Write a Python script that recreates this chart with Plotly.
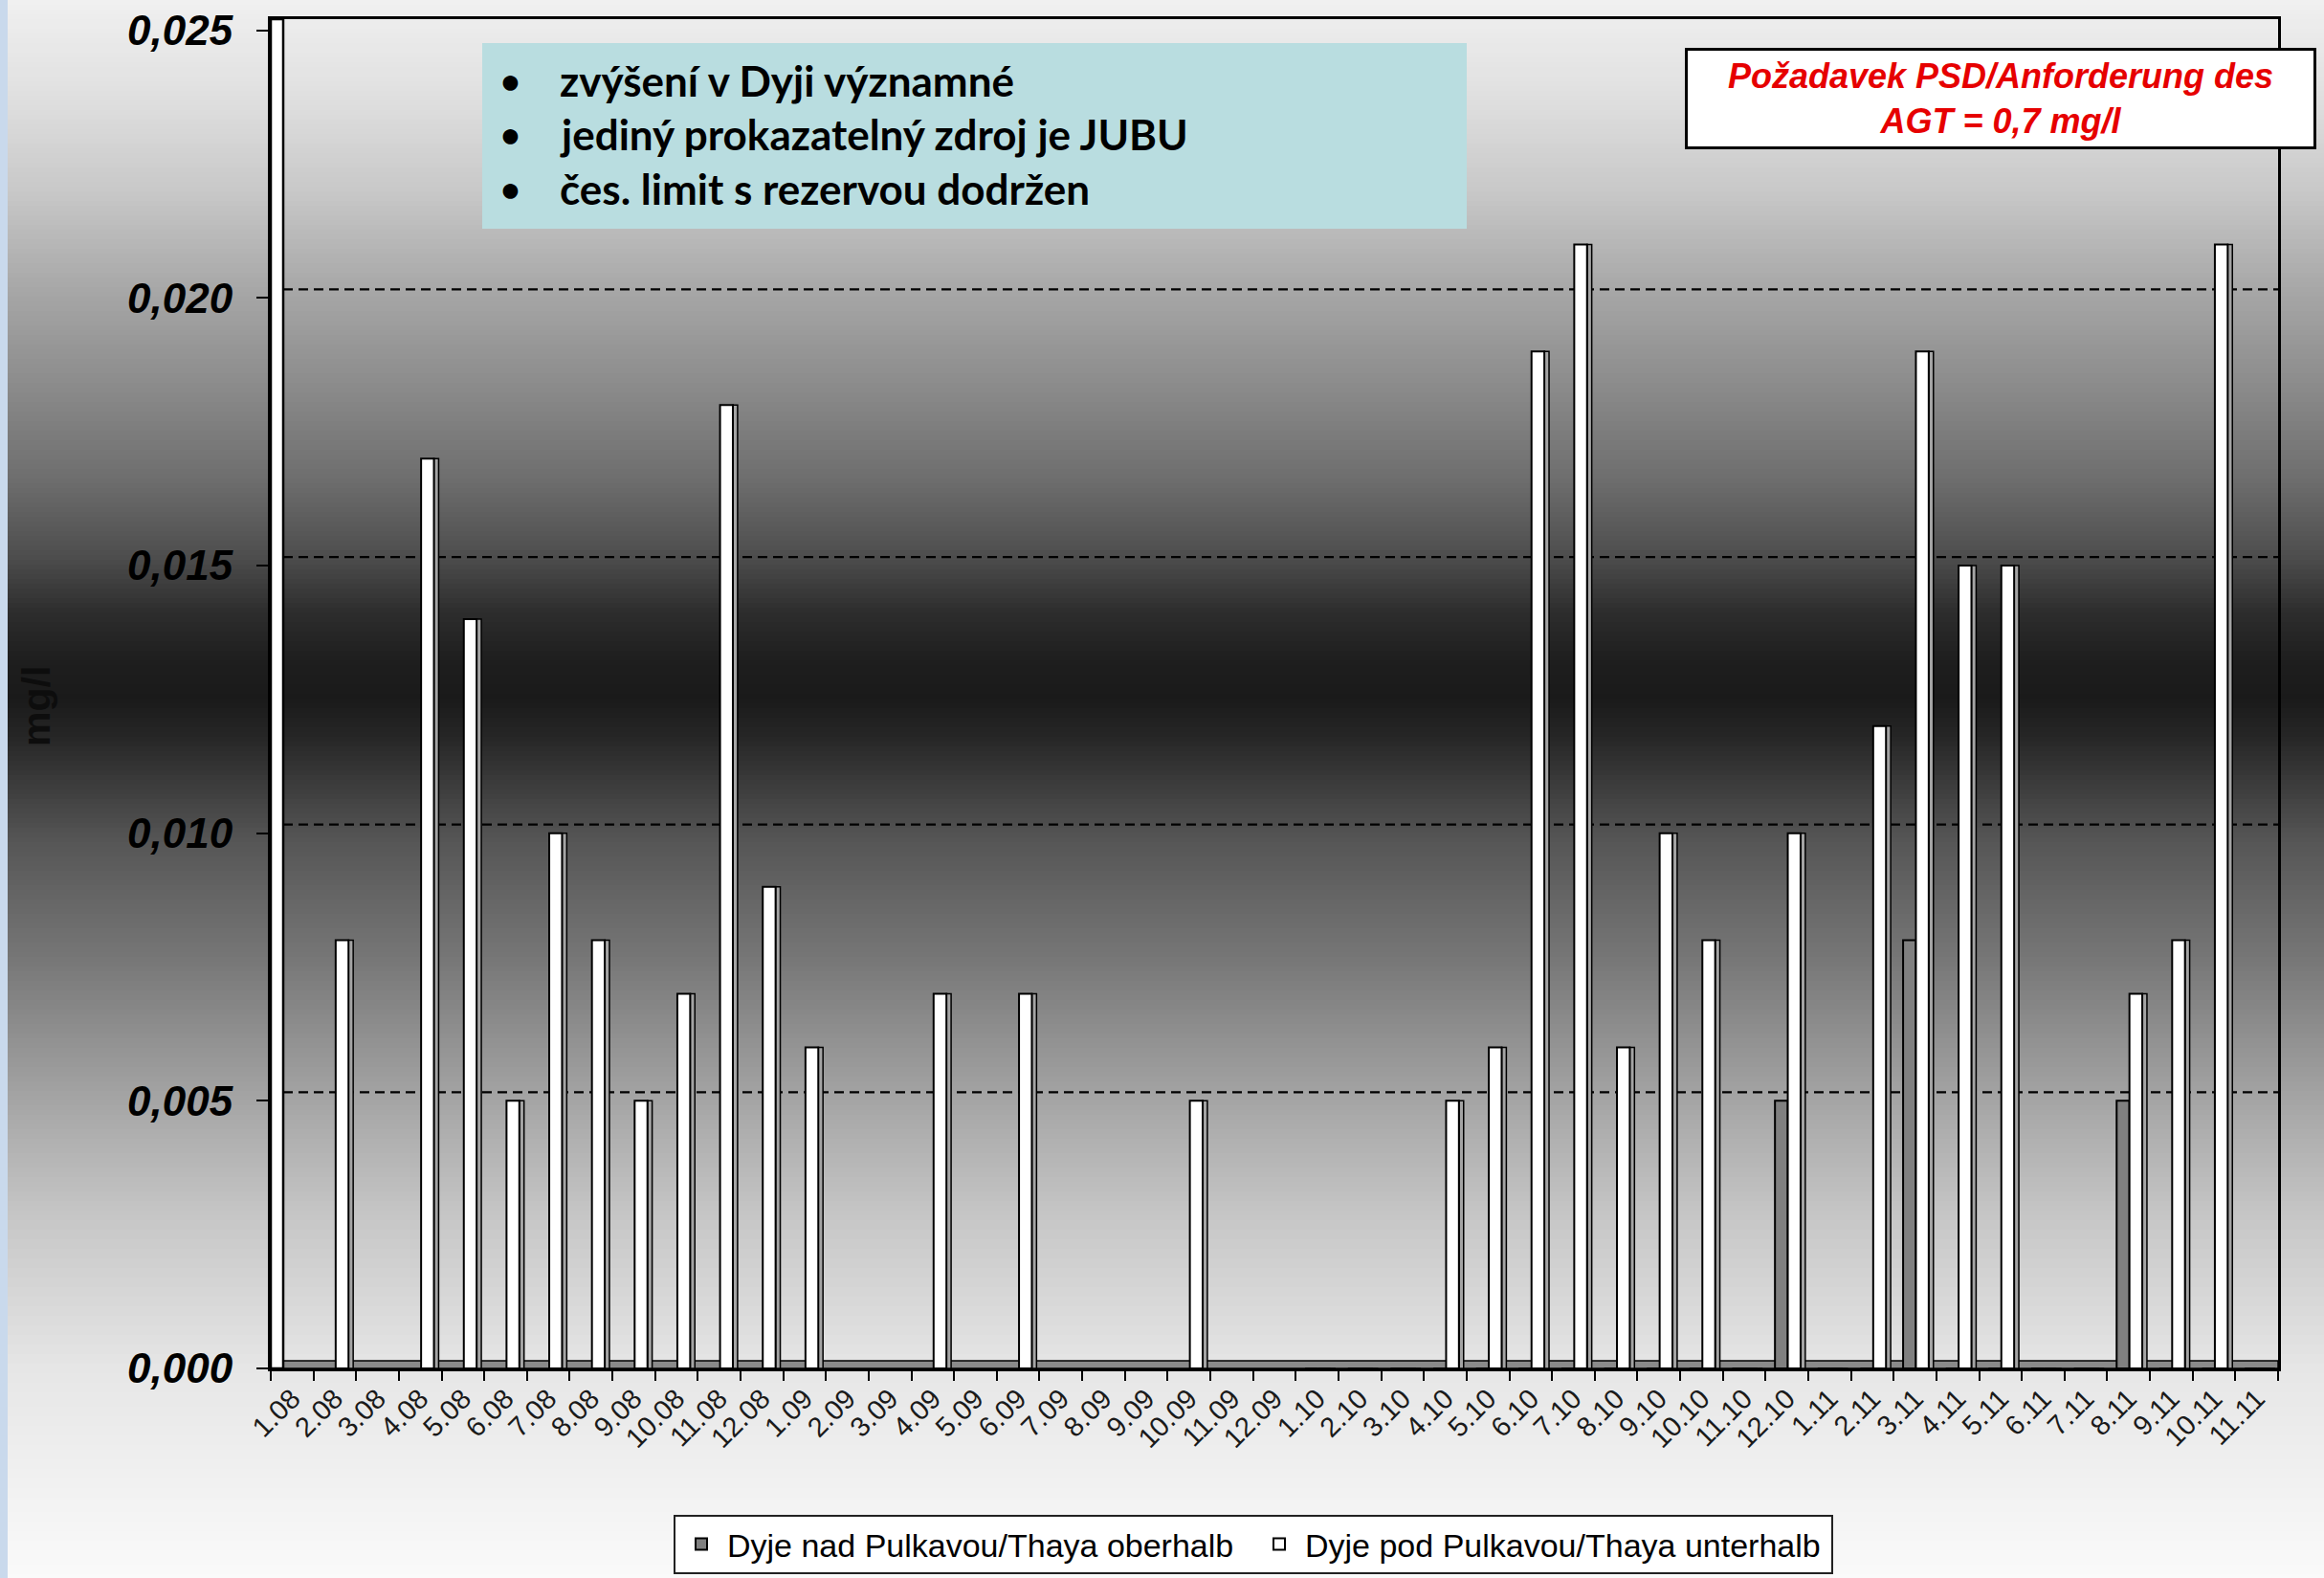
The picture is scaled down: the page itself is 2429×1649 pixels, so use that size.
import plotly.graph_objects as go

# ---- data -------------------------------------------------------------
months = [
    "1.08", "2.08", "3.08", "4.08", "5.08", "6.08", "7.08", "8.08", "9.08", "10.08", "11.08", "12.08",
    "1.09", "2.09", "3.09", "4.09", "5.09", "6.09", "7.09", "8.09", "9.09", "10.09", "11.09", "12.09",
    "1.10", "2.10", "3.10", "4.10", "5.10", "6.10", "7.10", "8.10", "9.10", "10.10", "11.10", "12.10",
    "1.11", "2.11", "3.11", "4.11", "5.11", "6.11", "7.11", "8.11", "9.11", "10.11", "11.11",
]

# Dyje nad Pulkavou / Thaya oberhalb  (mg/l)
dyje_nad = [
    None, None, None, None, None, None, None, None, None, None, None, None,
    None, None, None, None, None, None, None, None, None, None, None, None,
    0, 0, 0, 0, 0, 0, 0, 0, 0, 0, 0, 0.005,
    0, 0, 0.008, 0, 0, 0, 0, 0.005, 0, 0, 0,
]

# Dyje pod Pulkavou / Thaya unterhalb  (mg/l)
dyje_pod = [
    None, 0.008, None, 0.017, 0.014, 0.005, 0.010, 0.008, 0.005, 0.007, 0.018, 0.009,
    0.006, None, None, 0.007, None, 0.007, None, None, None, 0.005, None, None,
    0, 0, 0, 0.005, 0.006, 0.019, 0.021, 0.006, 0.010, 0.008, 0, 0.010,
    0, 0.012, 0.019, 0.015, 0.015, 0, 0, 0.007, 0.008, 0.021, 0,
]

y_ticks = [0.0, 0.005, 0.010, 0.015, 0.020, 0.025]
grid_levels = [0.005, 0.010, 0.015, 0.020]

series_names = ["Dyje nad Pulkavou/Thaya oberhalb", "Dyje pod Pulkavou/Thaya unterhalb"]
notes = ["zvýšení v Dyji významné", "jediný prokazatelný zdroj je JUBU", "čes. limit s rezervou dodržen"]
limit_text = "Požadavek PSD/Anforderung des<br>AGT = 0,7 mg/l"

# ---- page geometry (px) ----------------------------------------------
W, H = 2429, 1649
L, R, T, B = 283, 48, 20, 219
PW, PH = W - L - R, H - T - B
Y0 = H - B  # pixel row of the floor


def px_x(x):
    return (x - L) / PW


def px_y(y):
    return (Y0 - y) / PH


fig = go.Figure()

# ---- bars (flat faces + a side face for a 3D look) ----------------------
fig.add_trace(go.Bar(
    x=months, y=dyje_nad, name=series_names[0], offset=-0.28, width=0.30,
    marker=dict(color="#808080", line=dict(color="black", width=2)),
))
fig.add_trace(go.Bar(
    x=months, y=dyje_pod, showlegend=False, offset=0.32, width=0.11,
    marker=dict(color="#a4a4a4", line=dict(color="black", width=1.5)), hoverinfo="skip",
))
fig.add_trace(go.Bar(
    x=months, y=dyje_pod, name=series_names[1], offset=0.02, width=0.30,
    marker=dict(color="white", line=dict(color="black", width=2)),
))

shapes = []

# ---- vertical background gradient over the whole page -------------------
stops = [
    (0, 240), (100, 224), (200, 200), (300, 168), (400, 140), (500, 110),
    (580, 78), (640, 45), (690, 30), (730, 26), (770, 38), (820, 60),
    (880, 86), (1000, 118), (1140, 162), (1270, 198), (1430, 230), (1649, 250),
]


def shade(y):
    for (ya, ga), (yb, gb) in zip(stops[:-1], stops[1:]):
        if ya <= y <= yb:
            return ga + (gb - ga) * (y - ya) / (yb - ya)
    return stops[-1][1]


band = 5
for y in range(0, H, band):
    g = int(round(shade(y + band / 2)))
    shapes.append(dict(
        type="rect", xref="paper", yref="paper", layer="below",
        x0=px_x(-5), x1=px_x(W + 5), y0=px_y(y + band + 0.5), y1=px_y(y),
        fillcolor=f"rgb({g},{g},{g})", line=dict(width=0),
    ))

# thin light-blue strip at the left page edge
shapes.append(dict(
    type="rect", xref="paper", yref="paper", layer="below",
    x0=px_x(-2), x1=px_x(8), y0=px_y(H + 2), y1=px_y(-2),
    fillcolor="#c9d9ec", line=dict(width=0),
))

# dashed grid on the back wall (slightly raised for depth)
for lv in grid_levels:
    shapes.append(dict(
        type="line", xref="paper", yref="y", layer="below",
        ysizemode="pixel", yanchor=lv, y0=9, y1=9,
        x0=px_x(296), x1=1,
        line=dict(color="black", width=2.2, dash="10px,6px"),
    ))

# floor plate
shapes.append(dict(
    type="rect", xref="paper", yref="paper", layer="below",
    x0=0, x1=1, y0=0, y1=8 / PH,
    fillcolor="#8a8a8a", line=dict(color="black", width=1.5),
))

# left side wall edge
shapes.append(dict(
    type="rect", xref="paper", yref="paper", layer="above",
    x0=0, x1=13 / PW, y0=0, y1=1,
    fillcolor="white", line=dict(color="black", width=2.5),
))

# note box
shapes.append(dict(
    type="rect", xref="paper", yref="paper", layer="above",
    x0=px_x(504), x1=px_x(1533), y0=px_y(239), y1=px_y(45),
    fillcolor="#b9dde0", line=dict(width=0),
))

annotations = []
note_font = dict(family="Lato", size=44, color="black", weight="bold")
for i, txt in enumerate(notes):
    yc = [84, 140, 197][i]
    annotations.append(dict(
        xref="paper", yref="paper", x=px_x(533), y=px_y(yc),
        text="•", showarrow=False, xanchor="center", yanchor="middle",
        font=dict(family="Lato", size=36, color="black", weight="bold"),
    ))
    annotations.append(dict(
        xref="paper", yref="paper", x=px_x(583), y=px_y(yc),
        text=txt, showarrow=False, xanchor="left", yanchor="middle", font=note_font,
    ))

# limit box
annotations.append(dict(
    xref="paper", yref="paper", x=px_x(2091), y=px_y(103),
    text=limit_text, showarrow=False, xanchor="center", yanchor="middle",
    width=650, height=96, align="center",
    bgcolor="white", bordercolor="black", borderwidth=3, borderpad=2,
    font=dict(family="Liberation Sans", size=36, color="#e60000", weight="bold", style="italic"),
))

# y-axis title
annotations.append(dict(
    xref="paper", yref="paper", x=px_x(38), y=px_y(738),
    text="mg/l", textangle=-90, showarrow=False, xanchor="center", yanchor="middle",
    font=dict(family="Liberation Sans", size=41, color="#0d0d0d", weight="bold"),
))

fig.update_layout(
    width=W, height=H, autosize=False,
    margin=dict(l=L, r=R, t=T, b=B, autoexpand=False),
    paper_bgcolor="white", plot_bgcolor="rgba(0,0,0,0)",
    barmode="overlay", separators=",.",
    shapes=shapes, annotations=annotations,
    showlegend=True,
    legend=dict(
        orientation="h", xref="paper", yref="paper",
        x=px_x(704), y=px_y(1583), xanchor="left", yanchor="top",
        bgcolor="white", bordercolor="#222", borderwidth=2,
        font=dict(family="Liberation Sans", size=34, color="black"),
        itemwidth=44, entrywidth=545, entrywidthmode="pixels", traceorder="normal",
    ),
    xaxis=dict(
        type="category", categoryorder="array", categoryarray=months,
        range=[-0.5, len(months) - 0.5],
        showline=True, linecolor="black", linewidth=3, mirror=True,
        ticks="outside", tickson="boundaries", ticklen=10, tickwidth=2, tickcolor="black",
        tickangle=-45, tickfont=dict(family="Liberation Sans", size=29, color="#1a1a1a"),
        showgrid=False, automargin=False, fixedrange=True,
    ),
    yaxis=dict(
        range=[0, 0.02521], tickvals=y_ticks, tickformat=".3f",
        showline=True, linecolor="black", linewidth=3, mirror=True,
        ticks="outside", ticklen=12, tickwidth=2, tickcolor="black",
        ticklabelstandoff=16,
        tickfont=dict(family="Liberation Sans", size=44, color="black", weight="bold", style="italic"),
        showgrid=False, zeroline=False, automargin=False, fixedrange=True,
    ),
)

fig.write_html("out.html")
